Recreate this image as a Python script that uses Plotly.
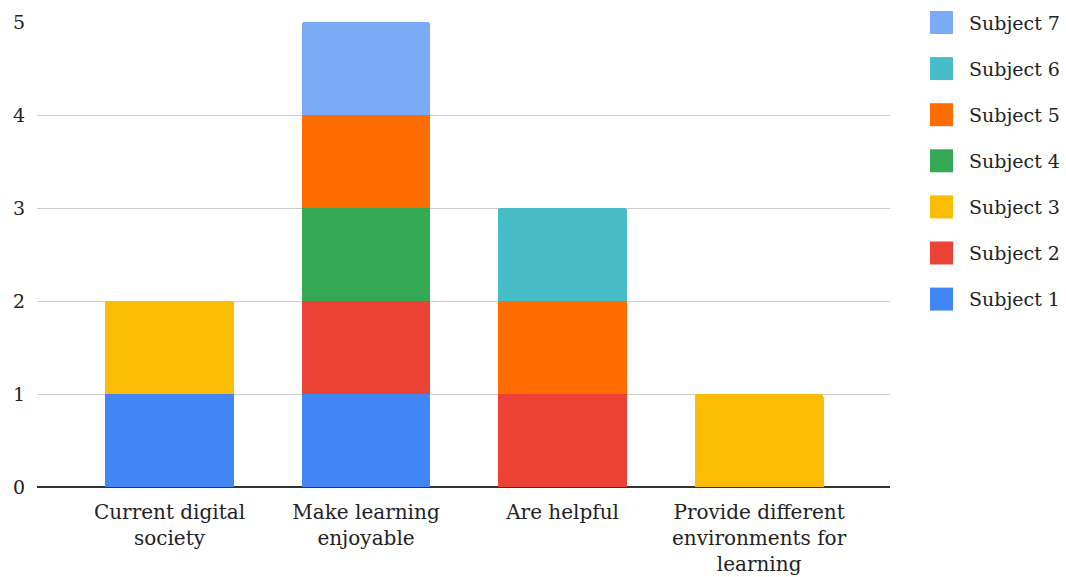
import plotly.graph_objects as go

categories = ["Current digital<br>society", "Make learning<br>enjoyable", "Are helpful",
              "Provide different<br>environments for<br>learning"]
series_names = ["Subject 1", "Subject 2", "Subject 3", "Subject 4", "Subject 5", "Subject 6", "Subject 7"]
subject1 = [1, 1, 0, 0]
subject2 = [0, 1, 1, 0]
subject3 = [1, 0, 0, 1]
subject4 = [0, 1, 0, 0]
subject5 = [0, 1, 1, 0]
subject6 = [0, 0, 1, 0]
subject7 = [0, 1, 0, 0]
values = [subject1, subject2, subject3, subject4, subject5, subject6, subject7]
colors = ["#4285F4", "#EA4335", "#FBBC04", "#34A853", "#FF6D01", "#46BDC6", "#7BAAF7"]

FONT = "DejaVu Serif"
FS = 20
W, H = 1066, 577
L, R, T, B = 37, 176, 22, 90
PW, PH = W - L - R, H - T - B

fig = go.Figure()
for i, (name, vals, col) in enumerate(zip(series_names, values, colors)):
    fig.add_trace(go.Bar(x=list(range(len(categories))), y=vals, name=name,
                         marker=dict(color=col, line=dict(width=0)),
                         width=0.656, showlegend=False))

# manual legend (top item = last series)
def px2paper(px, py):
    return (px - L) / PW, (H - B - py) / PH

n = len(series_names)
for k in range(n):
    idx = n - 1 - k
    cy = 22.5 + 46.1 * k
    x0, y0 = px2paper(930, cy + 11.5)
    x1, y1 = px2paper(953, cy - 11.5)
    fig.add_shape(type="rect", xref="paper", yref="paper", x0=x0, x1=x1, y0=y0, y1=y1,
                  fillcolor=colors[idx], line=dict(width=0), layer="above")
    tx, ty = px2paper(967, cy)
    fig.add_annotation(xref="paper", yref="paper", x=tx, y=ty, xanchor="left", yanchor="middle",
                       text=series_names[idx], showarrow=False,
                       font=dict(family=FONT, size=19, color="#222222"))

fig.update_layout(
    barmode="stack",
    barcornerradius=3,
    width=W, height=H,
    margin=dict(l=L, r=R, t=T, b=B, autoexpand=False),
    paper_bgcolor="white", plot_bgcolor="white",
    font=dict(family=FONT, size=FS, color="#222222"),
    showlegend=False,
    xaxis=dict(tickmode="array", tickvals=list(range(len(categories))), ticktext=categories,
               range=[-0.674, 3.666], showgrid=False, zeroline=False, showline=False,
               ticks="", ticklabelstandoff=11, tickfont=dict(size=FS)),
    yaxis=dict(range=[0, 5], tickvals=[0, 1, 2, 3, 4, 5], showgrid=True,
               gridcolor="#cccccc", gridwidth=1.2, zeroline=True, zerolinecolor="#333333",
               zerolinewidth=1.5, ticks="", ticklabelstandoff=11, tickfont=dict(size=19)),
    bargap=0.3,
)
fig.write_html("out.html")
